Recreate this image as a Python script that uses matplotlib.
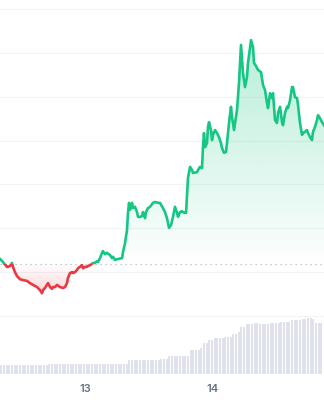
import matplotlib.pyplot as plt
import matplotlib.dates as mdates
from matplotlib.colors import to_rgb
from matplotlib.patches import Rectangle, Polygon
import numpy as np
import pandas as pd

plt.rcParams['font.family'] = ['Inter', 'DejaVu Sans']

# price series: hours since the first sample, price (arbitrary units)
start = pd.Timestamp('2024-03-12 08:04')
hours = [0, 0.56, 1.31, 1.5, 1.88, 2.25, 2.44, 2.81, 3.19, 3.75, 4.31, 5.06, 5.63, 6.19, 6.94,
         7.5, 7.88, 8.06, 8.44, 9.0, 9.38, 9.75, 9.94, 10.31, 10.69, 11.25, 11.81, 12.19, 12.56,
         12.75, 13.13, 13.5, 13.69, 14.06, 14.44, 14.63, 15.0, 15.38, 15.56, 15.94, 16.31, 16.5,
         16.88, 17.44, 17.81, 18.19, 18.38, 18.75, 19.13, 19.31, 19.69, 20.06, 20.63, 21.0, 21.19,
         21.56, 22.13, 22.88, 23.06, 23.44, 23.81, 24.0, 24.19, 24.38, 24.75, 24.94, 25.31, 25.69,
         25.88, 26.25, 26.63, 26.81, 27.19, 27.38, 27.75, 28.13, 28.69, 29.06, 29.63, 30.0, 30.56,
         30.94, 31.31, 31.5, 31.69, 32.06, 32.44, 32.81, 33.19, 33.38, 33.75, 34.13, 34.31, 34.69,
         34.88, 35.06, 35.25, 35.63, 36.0, 36.19, 36.94, 37.13, 37.5, 37.88, 38.06, 38.25, 38.44,
         38.81, 39.0, 39.19, 39.56, 39.75, 39.94, 40.31, 40.69, 41.06, 41.44, 41.63, 42.0, 42.38,
         42.56, 42.94, 43.31, 43.5, 43.88, 44.25, 44.44, 44.81, 45.19, 45.38, 45.56, 45.94, 46.31,
         46.5, 46.88, 47.06, 47.44, 47.63, 48.0, 48.38, 48.94, 49.31, 49.69, 50.06, 50.25, 50.63,
         51.0, 51.19, 51.56, 51.94, 52.13, 52.5, 52.88, 53.06, 53.44, 53.81, 54.0, 54.38, 54.75,
         54.94, 55.31, 55.69, 55.88, 56.25, 56.63, 56.81, 57.19, 57.56, 57.75, 58.13, 58.5, 58.69,
         59.06, 59.44, 59.63, 60.0, 60.38, 60.75]
price = [1.30, 1.23, 1.12, 1.12, 1.14, 1.21, 1.12, 1.00, 0.91, 0.84, 0.82, 0.80, 0.75, 0.71, 0.66,
         0.59, 0.52, 0.59, 0.64, 0.75, 0.66, 0.62, 0.66, 0.66, 0.71, 0.66, 0.64, 0.66, 0.75,
         0.87, 0.98, 1.00, 0.98, 1.00, 1.05, 1.09, 1.12, 1.16, 1.09, 1.12, 1.12, 1.14,
         1.16, 1.21, 1.21, 1.25, 1.23, 1.32, 1.44, 1.48, 1.41, 1.44, 1.39, 1.32, 1.35,
         1.28, 1.30, 1.32, 1.46, 1.66, 1.96, 2.35, 2.58, 2.42, 2.58, 2.46, 2.49, 2.37,
         2.26, 2.26, 2.28, 2.37, 2.23, 2.37, 2.46, 2.49, 2.58, 2.60, 2.58, 2.58, 2.46,
         2.37, 2.23, 2.12, 2.01, 2.07, 2.26, 2.49, 2.35, 2.26, 2.37, 2.39, 2.37, 2.35,
         2.35, 2.76, 3.15, 3.40, 3.33, 3.26, 3.28, 3.33, 3.40, 3.37, 3.85, 4.17, 3.85,
         3.94, 4.31, 4.42, 4.24, 4.01, 4.13, 4.24, 4.17, 4.08, 3.94, 3.83, 3.72, 3.74,
         3.94, 4.40, 4.77, 4.54, 4.24, 4.54, 4.70, 5.31, 6.18, 5.84, 5.54, 5.22, 5.45,
         5.77, 6.11, 6.29, 6.13, 5.77, 5.70, 5.61, 5.56, 5.27, 5.15, 4.86, 4.74, 5.08,
         4.97, 5.08, 4.47, 4.40, 4.63, 4.77, 4.42, 4.35, 4.63, 4.77, 4.74, 4.92, 5.22,
         5.22, 4.99, 4.97, 4.81, 4.40, 4.13, 4.17, 4.20, 4.24, 4.17, 4.08, 4.01, 4.20,
         4.31, 4.47, 4.58, 4.51, 4.42, 4.35]
base_price = 1.19

# volume (M), one bar every 30 minutes
volume = ([0.9] * 18 + [1.0] * 30 + [1.4] * 12 + [1.5] * 3 + [1.75] * 8 + [2.4] * 4 + [2.6]
          + [3.1] * 2 + [3.4] * 2 + [3.6] * 4 + [3.7] * 3 + [4.0] * 2 + [4.2] + [4.7] * 2
          + [5.0] * 3 + [5.1] * 2 + [5.0] * 4 + [5.1] * 4 + [5.2] * 4 + [5.4] * 4 + [5.5] * 2
          + [5.6] * 2 + [5.5] + [5.1] * 3)

green = '#16c784'
red = '#ea3943'

t = mdates.date2num((start + pd.to_timedelta(hours, unit='h')).to_numpy())
vt = mdates.date2num(pd.date_range(start + pd.Timedelta('15min'), periods=len(volume), freq='30min').to_numpy())
p = np.array(price)
xmin, xmax = t[0], t[-1]

fig = plt.figure(figsize=(3.24, 4.0), dpi=100)
rect = [0, 0.065, 1, 0.935]
vax = fig.add_axes(rect, zorder=0)
ax = fig.add_axes(rect, zorder=1)
ax.patch.set_visible(False)

# volume bars
vax.bar(vt, volume, width=0.5 / 24 * 0.72, color='#dfe2ed', linewidth=0)
vax.set_xlim(xmin, xmax)
vax.set_ylim(0, max(volume) / 0.15)
vax.axis('off')

# gradient fills under the price line
area = Polygon(np.column_stack([np.r_[xmin, t, xmax], np.r_[base_price, p, base_price]]),
               transform=ax.transData)
g = np.linspace(0, 1, 256).reshape(-1, 1)
top = np.zeros((256, 1, 4))
top[..., :3] = to_rgb(green)
top[..., 3] = 0.30 * g ** 0.9
im = ax.imshow(top, extent=[xmin, xmax, base_price, p.max()], origin='lower', aspect='auto', zorder=1)
im.set_clip_path(area)
bot = np.zeros((256, 1, 4))
bot[..., :3] = to_rgb(red)
bot[..., 3] = 0.20 * (1 - g)
im2 = ax.imshow(bot, extent=[xmin, xmax, p.min(), base_price], origin='lower', aspect='auto', zorder=1)
area2 = Polygon(area.get_xy(), transform=ax.transData)
im2.set_clip_path(area2)

# price line, green above and red below the reference price
lg, = ax.plot(t, p, color=green, lw=1.9, zorder=3, solid_joinstyle='round')
lg.set_clip_path(Rectangle((xmin, base_price), xmax - xmin, 50, transform=ax.transData))
lr, = ax.plot(t, p, color=red, lw=1.9, zorder=3, solid_joinstyle='round')
lr.set_clip_path(Rectangle((xmin, base_price - 50), xmax - xmin, 50, transform=ax.transData))

ax.axhline(base_price, color='#b4b9c6', lw=0.9, ls=(0, (1, 3)), zorder=2)

ax.set_xlim(xmin, xmax)
ax.set_ylim(-1.322, 7.205)
ax.set_yticks(range(8))
ax.yaxis.grid(True, color='#f2f3f6', lw=0.8)
ax.set_axisbelow(True)
ax.tick_params(axis='y', left=False, labelleft=False)
ax.xaxis.set_major_locator(mdates.DayLocator())
ax.xaxis.set_major_formatter(mdates.DateFormatter('%d'))
ax.tick_params(axis='x', length=0, pad=7, labelsize=8, labelcolor='#687386')
for lab in ax.get_xticklabels():
    lab.set_fontweight('semibold')
for s in ax.spines.values():
    s.set_visible(False)

fig.savefig('out.png', dpi=100)
